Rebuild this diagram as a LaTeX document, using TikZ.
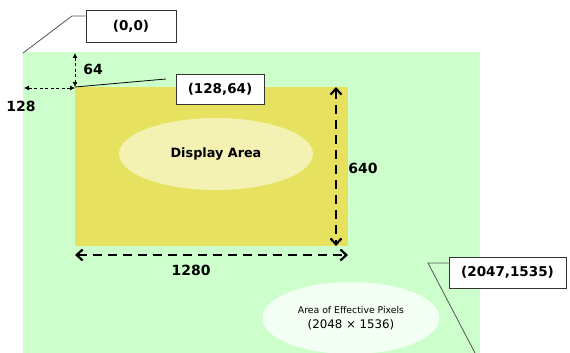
\documentclass[tikz,border=0pt]{standalone}
\usepackage{fontspec}
\setmainfont{DejaVu Sans}
\usetikzlibrary{shapes.geometric,arrows.meta}
\definecolor{areagreen}{HTML}{CCFFCC}
\definecolor{dispyellow}{HTML}{E6E260}
\definecolor{dispell}{HTML}{F3F2B3}
\definecolor{effell}{HTML}{F3FFF3}
\definecolor{leadgray}{HTML}{555555}
\tikzset{
  labelbox/.style={draw=black!80,line width=0.8pt,fill=white,inner sep=0pt,font=\fontsize{13.5}{15}\selectfont\bfseries},
  numlabel/.style={font=\fontsize{14}{16}\selectfont\bfseries,inner sep=0pt},
  bigdim/.style={line width=2.6pt,dash pattern=on 9pt off 6pt,{Straight Barb[length=6pt,width=11pt,line width=2.2pt]}-{Straight Barb[length=6pt,width=11pt,line width=2.2pt]}},
  smalldim/.style={line width=0.8pt,dash pattern=on 3pt off 2.5pt,{Latex[length=5pt,width=5pt]}-{Latex[length=5pt,width=5pt]}},
  leader/.style={line width=0.8pt,draw=leadgray},
}
\begin{document}
\begin{tikzpicture}[x=1pt,y=-1pt]
\useasboundingbox (0,0) rectangle (570,353);
% areas
\fill[areagreen] (23,52) rectangle (480,353);
\fill[dispyellow] (75,87) rectangle (348,246);
\node[ellipse,fill=dispell,minimum width=194pt,minimum height=72pt,inner sep=0pt,
  font=\fontsize{12.8}{14}\selectfont\bfseries] (disp) at (216,154) {Display Area};
\node[ellipse,fill=effell,minimum width=177pt,minimum height=72pt,inner sep=0pt,align=center] (eff) at (351,318)
  {{\fontsize{9.3}{11}\selectfont Area of Effective Pixels}\\[3pt]{\fontsize{11.8}{13}\selectfont (2048 × 1536)}};
% coordinates
\coordinate (origin) at (23,53);
\coordinate (dtl) at (75,87);
\coordinate (dtr) at (336,87);
\coordinate (dbr) at (336,246);
\coordinate (hl) at (75,255);
\coordinate (hr) at (348,255);
\coordinate (vt) at (75,53);
\coordinate (hleft) at (24,88);
\coordinate (hright) at (75,88);
\coordinate (bend0) at (72,16);
\coordinate (bend1) at (428,263);
\coordinate (endpt) at (475,353);
% dimension arrows
\draw[bigdim] (dtr) -- (dbr);
\draw[bigdim] (hl) -- (hr);
\draw[smalldim] (vt) -- (dtl);
\draw[smalldim] (hleft) -- (hright);
\node[numlabel] (l640) at (363,168) {640};
\node[numlabel] (l1280) at (191,270) {1280};
\node[numlabel] (l64) at (93,69) {64};
\node[numlabel] (l128) at (21,106) {128};
% label boxes
\node[labelbox,minimum width=90pt,minimum height=32pt] (b00) at (131,26) {(0,0)};
\node[labelbox,minimum width=88pt,minimum height=30pt] (b12864) at (220,89) {(128,64)};
\node[labelbox,minimum width=117pt,minimum height=31pt] (bend) at (507.5,272.5) {(2047,1535)};
% leaders
\draw[leader] (origin) -- (bend0) -- (b00.west|-bend0);
\draw[line width=0.8pt] (dtl) -- (166,79) coordinate (lead2);
\draw[leader] (endpt) -- (bend1) -- (bend.west|-bend1);
\end{tikzpicture}
\end{document}
